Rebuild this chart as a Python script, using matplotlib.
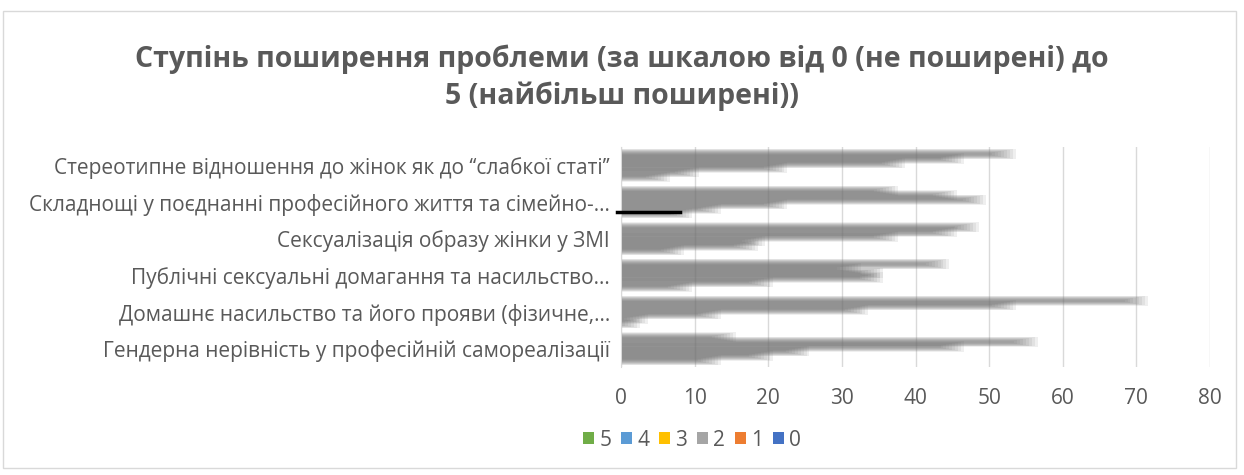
import matplotlib
matplotlib.use("Agg")
from matplotlib import pyplot as plt
from matplotlib.patches import Patch, Rectangle
from matplotlib.lines import Line2D
import numpy as np

plt.rcParams['font.family'] = ['Open Sans', 'DejaVu Sans']

title = "Ступінь поширення проблеми (за шкалою від 0 (не поширені) до\n5 (найбільш поширені))"

# categories, top to bottom as shown
categories = [
    "Стереотипне відношення до жінок як до ‘‘слабкої статі’’",
    "Складнощі у поєднанні професійного життя та сімейно-…",
    "Сексуалізація образу жінки у ЗМІ",
    "Публічні сексуальні домагання та насильство…",
    "Домашнє насильство та його прояви (фізичне,…",
    "Гендерна нерівність у професійній самореалізації",
]

# series (top bar of each cluster first), values per category
series_names = ["0", "1", "2", "3", "4", "5"]
s0 = [52, 36, 47, 43, 70, 14]
s1 = [45, 44, 44, 31, 52, 55]
s2 = [37, 48, 36, 34, 32, 45]
s3 = [21, 21, 18, 34, 12, 24]
s4 = [9, 12, 17, 19, 2, 19]
s5 = [5, 8, 7, 8, 1, 12]
series_values = [s0, s1, s2, s3, s4, s5]

legend_order = ["5", "4", "3", "2", "1", "0"]
legend_colors = {"5": "#70ad47", "4": "#5b9bd5", "3": "#ffc000",
                 "2": "#a5a5a5", "1": "#ed7d31", "0": "#4472c4"}

W, H = 1244, 475
fig = plt.figure(figsize=(W / 100, H / 100), dpi=100)
fig.patches.append(Rectangle((3 / W, 1 - 468 / H), 1233 / W, 457 / H,
                             transform=fig.transFigure, fill=False,
                             edgecolor='#d9d9d9', linewidth=1))

ax = fig.add_axes([621 / W, 1 - 367 / H, (1210 - 621) / W, (367 - 147) / H])

y = np.arange(len(categories))
bh = 0.74 / len(series_names)
gray = '#727272'
# soft, blurred looking bars: several translucent layers per bar
n_layers = 9
for j, vals in enumerate(series_values):
    pos = y + (j - 2.5) * bh
    v = np.array(vals, dtype=float)
    for k in range(n_layers):
        hm = 0.5 + 0.22 * k
        extra = -1.6 + 0.4 * k
        ax.barh(pos, np.maximum(v + extra, 0), height=bh * hm, left=0,
                color=gray, alpha=0.11, linewidth=0, zorder=2)

ax.set_xlim(0, 80)
ax.set_ylim(len(categories) - 0.5, -0.5)
ax.set_xticks(range(0, 81, 10))
ax.set_yticks(y)
ax.set_yticklabels(categories)
ax.grid(axis='x', color='#d9d9d9', linewidth=1, zorder=1)
ax.set_axisbelow(True)
for side in ['top', 'right', 'bottom']:
    ax.spines[side].set_visible(False)
ax.spines['left'].set_color('#d9d9d9')
ax.tick_params(axis='x', length=0, pad=15, labelsize=15, labelcolor='#595959')
ax.tick_params(axis='y', length=0, pad=8, labelsize=15, labelcolor='#595959')

fig.text(622 / W, 1 - 78 / H, title, ha='center', va='center',
         fontsize=20.5, fontweight='bold', color='#595959', linespacing=1.35)

handles = [Patch(facecolor=legend_colors[n], edgecolor='none') for n in legend_order]
leg = fig.legend(handles, legend_order, loc='center', ncol=6,
                 bbox_to_anchor=(692 / W, 1 - 440 / H), frameon=False,
                 fontsize=15, handlelength=0.55, handleheight=0.55,
                 handletextpad=0.25, columnspacing=0.45)
for t in leg.get_texts():
    t.set_color('#595959')

# dark stroke visible in the original picture
fig.add_artist(Line2D([617 / W, 680 / W], [1 - 212 / H, 1 - 212 / H],
                      transform=fig.transFigure, color='black', linewidth=2.5))

fig.savefig("out.png", dpi=100)
